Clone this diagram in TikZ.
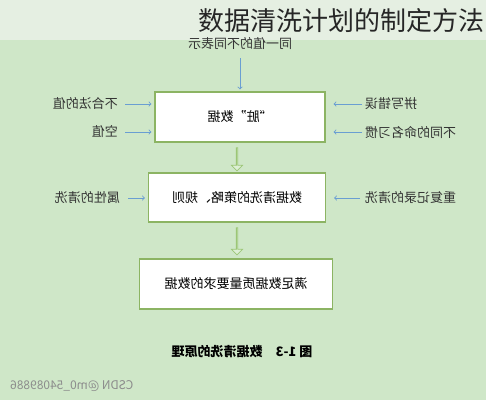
\documentclass[tikz,border=0pt]{standalone}
\usepackage{fontspec}
\usepackage{graphicx}
\setmainfont{Noto Sans CJK SC}
\usetikzlibrary{positioning,shapes.arrows}

\definecolor{bggreen}{HTML}{CFE7C8}
\definecolor{topband}{HTML}{E5EFE2}
\definecolor{boxgreen}{HTML}{8CB463}
\definecolor{arrblue}{HTML}{6A9ED2}
\definecolor{hollowfill}{HTML}{DDEFD5}
\definecolor{hollowline}{HTML}{9CC676}

\tikzset{
  stagebox/.style={draw=boxgreen, line width=1.2pt, fill=white, inner sep=0pt, font=\fontsize{13}{15}\selectfont},
  sidelabel/.style={inner sep=0pt, font=\fontsize{13}{15}\selectfont, text=black!80},
  inarrow/.style={->, arrblue, line width=0.9pt},
  fatarrow/.style={single arrow, draw=hollowline, fill=hollowfill, line width=0.8pt,
    single arrow head extend=3pt, single arrow tip angle=90, minimum height=23pt,
    minimum width=11pt, inner sep=0pt, shape border rotate=270}
}
\newcommand{\mirr}[1]{\reflectbox{#1}}

\begin{document}
\begin{tikzpicture}[x=1pt,y=-1pt]
% Background
\fill[bggreen] (0,0) rectangle (486,400);
\fill[topband] (0,0) rectangle (486,40);
\useasboundingbox (0,0) rectangle (486,400);

% Title
\node[anchor=east, inner sep=0pt, font=\fontsize{26}{28}\selectfont, text=black!85] (title) at (485,21) {数据清洗计划的制定方法};

% Boxes
\node[stagebox, minimum width=170pt, minimum height=50pt] (dirty) at (240,117) {\mirr{“脏”数据}};
\node[stagebox, minimum width=177pt, minimum height=49pt] (rules) at (237,197.5) {\mirr{数据清洗的策略、规则}};
\node[stagebox, minimum width=193pt, minimum height=50pt] (clean) at (236,284) {\mirr{满足数据质量要求的数据}};

% Hollow arrows between boxes
\node[fatarrow] (down1) at (237,159) {};
\node[fatarrow, minimum height=27pt] (down2) at (237,241) {};

% Inputs of the dirty data
\node[sidelabel] (same) at (240,44) {\mirr{同一值的不同表示}};
\node[sidelabel, anchor=east] (illegal) at (118,104) {\mirr{不合法的值}};
\node[sidelabel, anchor=east] (empty) at (118,132) {\mirr{空值}};
\node[sidelabel, anchor=west] (spell) at (365,104) {\mirr{拼写错误}};
\node[sidelabel, anchor=west] (naming) at (365,132) {\mirr{不同的命名习惯}};

\draw[inarrow, shorten <=8pt, shorten >=2pt] (same) -- (dirty);
\draw[inarrow, shorten <=7pt, shorten >=3pt] (illegal.east) -- (dirty.west |- illegal);
\draw[inarrow, shorten <=7pt, shorten >=3pt] (empty.east) -- (dirty.west |- empty);
\draw[inarrow, shorten <=3pt, shorten >=8pt] (spell.west) -- (dirty.east |- spell);
\draw[inarrow, shorten <=3pt, shorten >=8pt] (naming.west) -- (dirty.east |- naming);

% Inputs of the rules
\node[sidelabel, anchor=east] (attr) at (120,198) {\mirr{属性的清洗}};
\node[sidelabel, anchor=west] (dup) at (365,198) {\mirr{重复记录的清洗}};
\draw[inarrow, shorten <=8pt, shorten >=3pt] (attr.east) -- (rules.west |- attr);
\draw[inarrow, shorten <=5pt, shorten >=8pt] (dup.west) -- (rules.east |- dup);

% Caption and mark
\node[inner sep=0pt, font=\fontsize{13}{15}\selectfont\bfseries] (caption) at (242,352) {\mirr{图 1-3\quad 数据清洗的原理}};
\node[anchor=west, inner sep=0pt, font=\fontsize{12}{14}\selectfont, text=black!45] (mark) at (10,386) {\mirr{CSDN @m0\_54089886}};
\end{tikzpicture}
\end{document}
